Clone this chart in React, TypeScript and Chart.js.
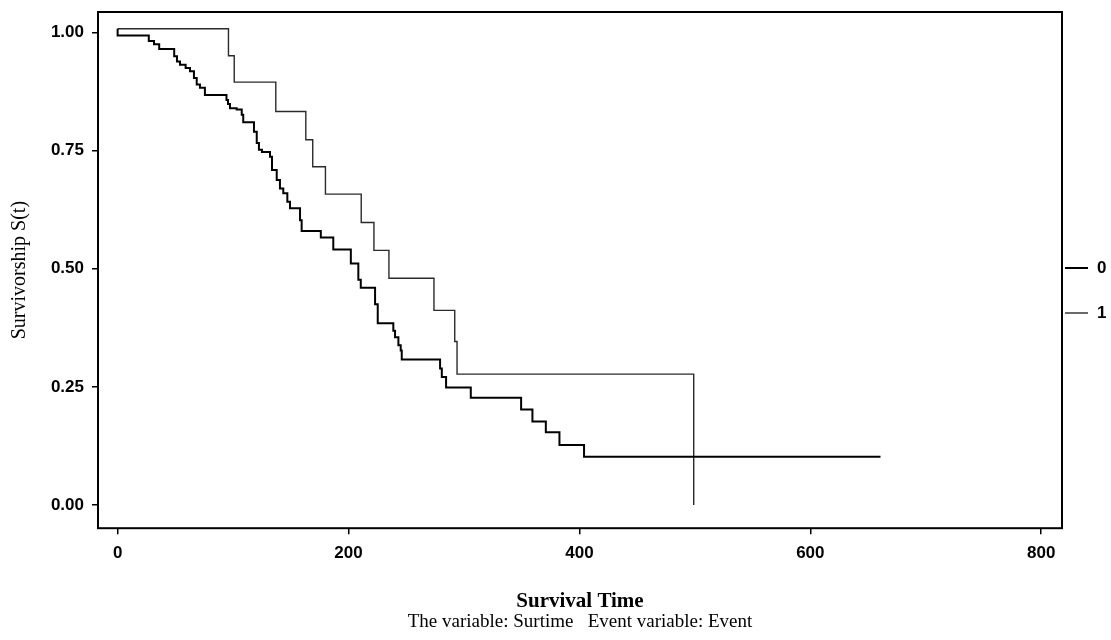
import React, { useEffect, useRef } from "react";
import { Chart, registerables } from "chart.js";

Chart.register(...registerables);

// ---- data ----
const seriesLabels = ["0", "1"];

const times0 = [0, 0, 27, 31.5, 36, 49, 51.4, 54, 58.9, 62.7, 66.1, 68.5, 71.3, 75.6, 94.3, 95.6, 97.3, 103.1, 107.5, 108.8, 118.1, 120.5, 122.4, 125, 132, 133.7, 137.8, 140.6, 143.5, 147, 149.3, 158, 159.4, 176, 186.8, 202, 208.5, 210.6, 223, 225.3, 238.8, 240.3, 243.2, 245.2, 246.1, 279.3, 280.8, 284.5, 305.9, 349.5, 359.3, 370.9, 382.7, 404, 660.8];
const surv0 = [1.008, 0.994, 0.982, 0.975, 0.965, 0.95, 0.939, 0.932, 0.925, 0.918, 0.904, 0.89, 0.883, 0.868, 0.857, 0.849, 0.84, 0.837, 0.826, 0.81, 0.79, 0.766, 0.752, 0.747, 0.737, 0.709, 0.688, 0.67, 0.66, 0.642, 0.628, 0.603, 0.58, 0.566, 0.541, 0.511, 0.477, 0.46, 0.425, 0.385, 0.369, 0.355, 0.338, 0.327, 0.308, 0.289, 0.271, 0.249, 0.227, 0.202, 0.177, 0.154, 0.127, 0.102, 0.102];

const times1 = [0, 96, 101, 137, 163, 169, 180, 211, 222, 235, 274, 292, 294, 499];
const surv1 = [1.008, 0.951, 0.895, 0.833, 0.773, 0.716, 0.658, 0.598, 0.539, 0.48, 0.412, 0.346, 0.277, 0.0];

const xTicks = [0, 200, 400, 600, 800];
const yTicks = [0, 0.25, 0.5, 0.75, 1.0];

const xTitle = "Survival Time";
const yTitle = "Survivorship S(t)";
const subtitleText = "The variable: Surtime   Event variable: Event";

const W = 1111;
const H = 640;

const framePlugin = {
  id: "frame",
  afterDatasetsDraw(chart: any) {
    const { ctx, chartArea } = chart;
    ctx.save();
    ctx.strokeStyle = "#000";
    ctx.lineWidth = 2;
    ctx.strokeRect(chartArea.left, chartArea.top, chartArea.right - chartArea.left, chartArea.bottom - chartArea.top);
    ctx.restore();
  },
};

const sideLegendPlugin = {
  id: "sideLegend",
  afterDraw(chart: any, _args: any, opts: any) {
    const { ctx, chartArea } = chart;
    ctx.save();
    chart.data.datasets.forEach((ds: any, i: number) => {
      const y = opts.top + i * opts.gap;
      const x0 = chartArea.right + opts.lineStart;
      ctx.strokeStyle = ds.borderColor;
      ctx.lineWidth = ds.borderWidth;
      ctx.beginPath();
      ctx.moveTo(x0, y);
      ctx.lineTo(x0 + opts.lineLength, y);
      ctx.stroke();
      ctx.fillStyle = "#000";
      ctx.font = opts.font;
      ctx.textAlign = "left";
      ctx.textBaseline = "middle";
      ctx.fillText(ds.label, x0 + opts.lineLength + opts.textGap, y);
    });
    ctx.restore();
  },
};

export default function App() {
  const ref = useRef<HTMLCanvasElement | null>(null);

  useEffect(() => {
    if (!ref.current) return;
    const tickFont = { family: "'Liberation Sans', Arial, sans-serif", size: 17, weight: "bold" as const };
    const chart = new Chart(ref.current, {
      type: "line",
      data: {
        datasets: [
          {
            label: seriesLabels[0],
            data: times0.map((t, i) => ({ x: t, y: surv0[i] })),
            borderColor: "#000000",
            borderWidth: 2,
            stepped: "before",
            pointRadius: 0,
            fill: false,
          },
          {
            label: seriesLabels[1],
            data: times1.map((t, i) => ({ x: t, y: surv1[i] })),
            borderColor: "#2a2a2a",
            borderWidth: 1.4,
            stepped: "before",
            pointRadius: 0,
            fill: false,
          },
        ],
      },
      options: {
        animation: false,
        responsive: false,
        devicePixelRatio: 1,
        layout: { padding: { top: 12, right: 49, left: 0, bottom: 0 } },
        plugins: {
          legend: { display: false },
          tooltip: { enabled: false },
          subtitle: {
            display: true,
            position: "bottom",
            fullSize: false,
            text: subtitleText,
            color: "#000",
            font: { family: "'Liberation Serif', 'Times New Roman', serif", size: 19, weight: "normal" },
            padding: { top: 0, bottom: 7 },
          },
          sideLegend: {
            top: 268,
            gap: 45,
            lineStart: 3,
            lineLength: 23,
            textGap: 9,
            font: "bold 17px 'Liberation Sans', Arial, sans-serif",
          },
        } as any,
        scales: {
          x: {
            type: "linear",
            min: -17,
            max: 818,
            border: { display: false },
            grid: { drawOnChartArea: false, drawTicks: true, tickLength: 6, color: "#000", lineWidth: 1.5 },
            ticks: { font: tickFont, color: "#000", padding: 9, maxRotation: 0 },
            afterBuildTicks: (s: any) => {
              s.ticks = xTicks.map((v) => ({ value: v }));
            },
            afterFit: (s: any) => {
              s.height = 82;
              s.paddingLeft = 0;
              s.paddingRight = 0;
            },
            title: {
              display: true,
              text: xTitle,
              color: "#000",
              font: { family: "'Liberation Serif', 'Times New Roman', serif", size: 21, weight: "bold", lineHeight: "18px" } as any,
              padding: { top: 0, bottom: 0 },
            },
          },
          y: {
            type: "linear",
            min: -0.049,
            max: 1.0435,
            border: { display: false },
            grid: { drawOnChartArea: false, drawTicks: true, tickLength: 6, color: "#000", lineWidth: 1.5 },
            ticks: {
              font: tickFont,
              color: "#000",
              padding: 8,
              callback: (v: any) => Number(v).toFixed(2),
            },
            afterBuildTicks: (s: any) => {
              s.ticks = yTicks.map((v) => ({ value: v }));
            },
            afterFit: (s: any) => {
              s.width = 98;
              s.paddingTop = 0;
              s.paddingBottom = 0;
            },
            title: {
              display: true,
              text: yTitle,
              color: "#000",
              font: { family: "'Liberation Serif', 'Times New Roman', serif", size: 20, weight: "normal" },
              padding: { top: 8, bottom: 0 },
            },
          },
        },
      },
      plugins: [framePlugin, sideLegendPlugin],
    } as any);
    return () => chart.destroy();
  }, []);

  return (
    <canvas
      ref={ref}
      width={W}
      height={H}
      style={{ position: "fixed", left: 0, top: 0, width: W, height: H, background: "#fff" }}
    />
  );
}
